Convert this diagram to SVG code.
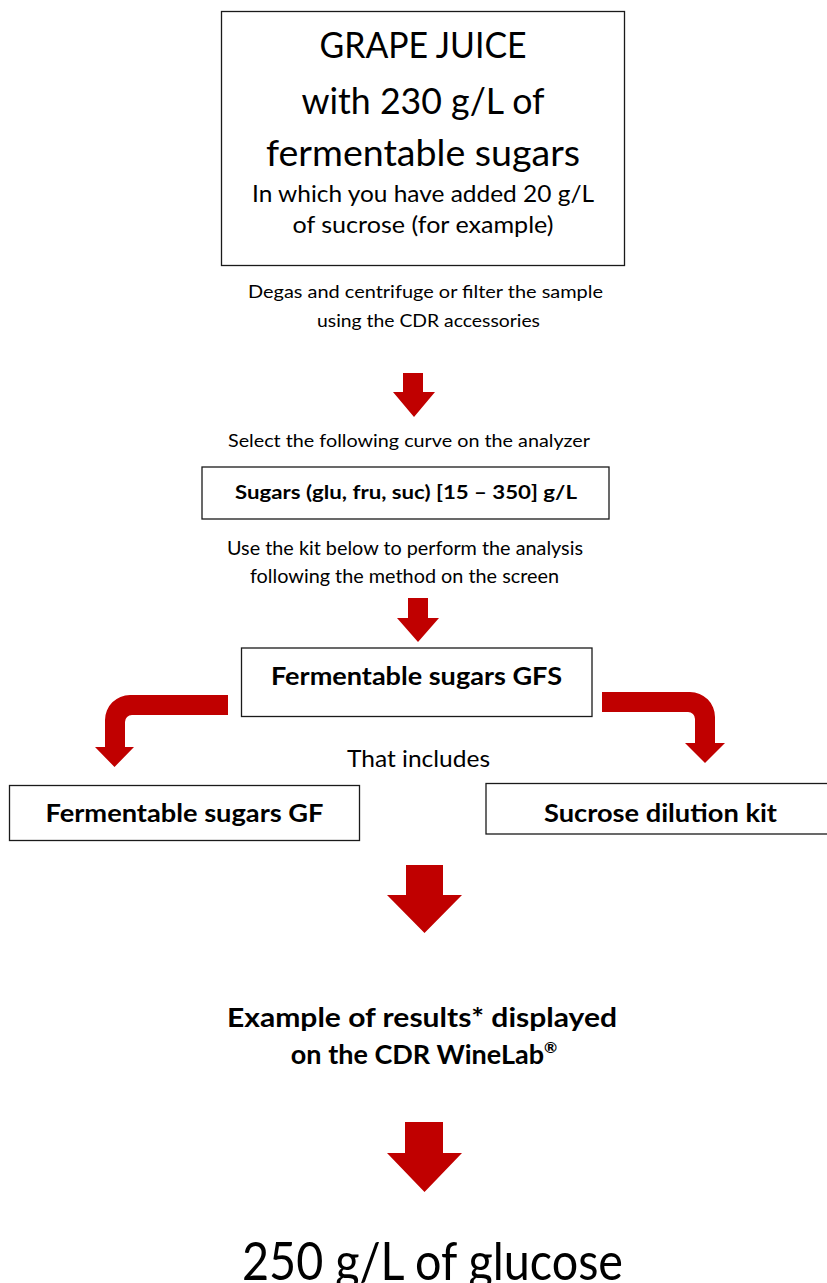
<svg xmlns="http://www.w3.org/2000/svg" width="827" height="1283" viewBox="0 0 827 1283">
<style>
.box{fill:#fff;stroke:#1a1a1a;stroke-width:1.3}
.t{font-family:Lato,"Liberation Sans",sans-serif;fill:#000;text-anchor:middle}
.b{font-weight:bold}
.arr{fill:#C00000}
</style>
<rect width="827" height="1283" fill="#fff"/>
<g id="grape-juice">
<rect class="box" x="221.5" y="11.5" width="403" height="254"/>
<text class="t" x="423" y="58" font-size="36" textLength="207" lengthAdjust="spacingAndGlyphs">GRAPE JUICE</text>
<text class="t" x="423" y="114" font-size="36" textLength="243" lengthAdjust="spacingAndGlyphs">with 230 g/L of</text>
<text class="t" x="423" y="166" font-size="36" textLength="314" lengthAdjust="spacingAndGlyphs">fermentable sugars</text>
<text class="t" x="423" y="202" font-size="24" textLength="342" lengthAdjust="spacingAndGlyphs">In which you have added 20 g/L</text>
<text class="t" x="423" y="233" font-size="24" textLength="261" lengthAdjust="spacingAndGlyphs">of sucrose (for example)</text>
</g>
<g id="degas-note">
<text class="t" x="425.5" y="298" font-size="18" textLength="355" lengthAdjust="spacingAndGlyphs">Degas and centrifuge or filter the sample</text>
<text class="t" x="428.5" y="327" font-size="18" textLength="223" lengthAdjust="spacingAndGlyphs">using the CDR accessories</text>
</g>
<g id="select-note">
<text class="t" x="409" y="447" font-size="18" textLength="362" lengthAdjust="spacingAndGlyphs">Select the following curve on the analyzer</text>
</g>
<g id="curve-box">
<rect class="box" x="202" y="467" width="407" height="52"/>
<text class="t b" x="406" y="499" font-size="18" textLength="342" lengthAdjust="spacingAndGlyphs">Sugars (glu, fru, suc) [15 – 350] g/L</text>
</g>
<g id="kit-note">
<text class="t" x="405" y="555" font-size="18.5" textLength="356" lengthAdjust="spacingAndGlyphs">Use the kit below to perform the analysis</text>
<text class="t" x="404.5" y="583" font-size="18.5" textLength="309" lengthAdjust="spacingAndGlyphs">following the method on the screen</text>
</g>
<g id="gfs-box">
<rect class="box" x="241.5" y="648" width="350.5" height="68.5"/>
<text class="t b" x="416.5" y="685" font-size="24.5" textLength="291" lengthAdjust="spacingAndGlyphs">Fermentable sugars GFS</text>
</g>
<g id="includes-note">
<text class="t" x="418.5" y="767" font-size="24" textLength="143" lengthAdjust="spacingAndGlyphs">That includes</text>
</g>
<g id="gf-box">
<rect class="box" x="9.5" y="785.5" width="350" height="55"/>
<text class="t b" x="184.5" y="822" font-size="24.5" textLength="278" lengthAdjust="spacingAndGlyphs">Fermentable sugars GF</text>
</g>
<g id="sucrose-box">
<rect class="box" x="486" y="783.5" width="345" height="50.5"/>
<text class="t b" x="660.5" y="822" font-size="24.5" textLength="233" lengthAdjust="spacingAndGlyphs">Sucrose dilution kit</text>
</g>
<g id="results-note">
<text class="t b" x="422" y="1027" font-size="27" textLength="390" lengthAdjust="spacingAndGlyphs">Example of results* displayed</text>
<text class="t b" x="424" y="1064" font-size="27">on the CDR WineLab<tspan font-size="16" dy="-11">®</tspan></text>
</g>
<g id="glucose-result">
<text class="t" x="432.5" y="1280" font-size="53" textLength="381" lengthAdjust="spacingAndGlyphs">250 g/L of glucose</text>
</g>
<g id="connectors">
<path class="arr" d="M403,373 L423,373 L423,392 L435,392 L414,417 L393,392 L403,392 Z"/>
<path class="arr" d="M408,598 L428,598 L428,618 L439,618 L418,642 L397,618 L408,618 Z"/>
<path class="arr" d="M228,695 L130,695 A25,25 0 0 0 105,720 L105,747 L95,747 L114.5,767 L134,747 L125,747 L125,722 A7,7 0 0 1 132,715 L228,715 Z"/>
<path class="arr" d="M602,692 L690,692 A25,25 0 0 1 715,717 L715,743 L725,743 L705,763 L685,743 L695,743 L695,719 A7,7 0 0 0 688,712 L602,712 Z"/>
<path class="arr" d="M406,865 L443,865 L443,895 L462,895 L424.5,933 L387,895 L406,895 Z"/>
<path class="arr" d="M405,1122 L443,1122 L443,1153 L462,1153 L424.5,1192 L387,1153 L405,1153 Z"/>
</g>
</svg>
